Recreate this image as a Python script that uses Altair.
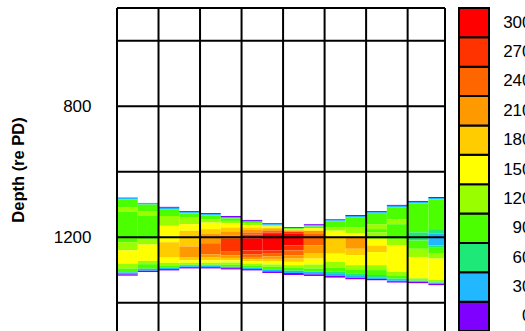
import altair as alt
import pandas as pd

# Colour levels (value -> fill)
LEVELS = [0, 30, 60, 90, 120, 150, 180, 210, 240, 270, 300]
COLORS = ["#7F00FF", "#22B8FF", "#1EE878", "#4CFF00", "#99FF00", "#FFFF00",
          "#FFCC00", "#FF9900", "#FF6600", "#FF3300", "#FF0000"]

# Range columns (width 0.5) : each column is a list of (top depth, level),
# followed by the bottom depth of the last segment.
COL_WIDTH = 0.5
COL_SEGMENTS = [
    [(1078, 30), (1084, 90), (1108, 120), (1122, 90), (1215, 120), (1240, 150), (1280, 120), (1295, 90), (1307, 30), (1313, 0)],
    [(1095, 30), (1100, 90), (1120, 120), (1135, 90), (1205, 120), (1222, 150), (1272, 120), (1282, 90), (1296, 30), (1302, 0)],
    [(1107, 0), (1110, 30), (1114, 90), (1135, 120), (1165, 150), (1215, 180), (1262, 150), (1278, 120), (1286, 90), (1292, 30), (1297, 0)],
    [(1120, 0), (1123, 30), (1127, 90), (1140, 120), (1160, 150), (1180, 180), (1228, 210), (1262, 180), (1270, 150), (1278, 120), (1284, 90), (1288, 30), (1291, 0)],
    [(1126, 0), (1129, 30), (1133, 90), (1145, 120), (1155, 150), (1175, 180), (1190, 210), (1218, 240), (1252, 210), (1262, 180), (1270, 150), (1278, 120), (1283, 90), (1287, 30), (1291, 0)],
    [(1135, 0), (1138, 30), (1142, 90), (1150, 120), (1157, 150), (1170, 180), (1182, 210), (1195, 240), (1205, 270), (1242, 240), (1255, 210), (1263, 180), (1270, 150), (1277, 120), (1284, 90), (1290, 30), (1294, 0)],
    [(1147, 0), (1150, 30), (1153, 90), (1158, 120), (1163, 150), (1170, 180), (1177, 210), (1185, 240), (1192, 270), (1203, 300), (1240, 270), (1252, 240), (1260, 210), (1267, 180), (1273, 150), (1280, 120), (1287, 90), (1293, 30), (1297, 0)],
    [(1157, 0), (1160, 30), (1163, 120), (1167, 150), (1171, 180), (1175, 210), (1180, 240), (1185, 270), (1190, 300), (1240, 270), (1250, 240), (1258, 210), (1266, 180), (1274, 150), (1283, 120), (1290, 90), (1298, 30), (1304, 0)],
    [(1169, 0), (1172, 90), (1175, 150), (1179, 210), (1183, 270), (1188, 300), (1225, 270), (1240, 240), (1255, 210), (1265, 180), (1275, 150), (1285, 120), (1293, 90), (1302, 30), (1309, 0)],
    [(1160, 0), (1163, 30), (1167, 90), (1172, 150), (1180, 210), (1188, 240), (1225, 210), (1250, 180), (1265, 150), (1283, 120), (1295, 90), (1305, 30), (1313, 0)],
    [(1145, 0), (1148, 30), (1152, 90), (1170, 120), (1180, 150), (1200, 180), (1250, 150), (1275, 120), (1292, 90), (1305, 60), (1312, 30), (1318, 0)],
    [(1132, 0), (1135, 30), (1140, 90), (1170, 120), (1188, 150), (1200, 210), (1235, 180), (1255, 150), (1285, 120), (1298, 90), (1310, 60), (1318, 30), (1324, 0)],
    [(1120, 0), (1123, 30), (1128, 90), (1160, 120), (1175, 90), (1185, 120), (1205, 150), (1225, 180), (1245, 150), (1285, 120), (1300, 90), (1315, 60), (1322, 30), (1327, 0)],
    [(1101, 0), (1104, 30), (1108, 90), (1145, 120), (1160, 90), (1205, 120), (1225, 150), (1305, 120), (1318, 90), (1326, 60), (1331, 30), (1334, 0)],
    [(1089, 0), (1092, 30), (1096, 90), (1185, 60), (1210, 90), (1235, 120), (1260, 150), (1325, 120), (1332, 60), (1336, 0)],
    [(1077, 0), (1080, 30), (1084, 90), (1175, 60), (1188, 30), (1225, 60), (1232, 90), (1250, 120), (1265, 150), (1330, 120), (1338, 30), (1342, 0)],
]
COL_BOTTOM = [1317, 1306, 1301, 1295, 1295, 1298, 1301, 1309, 1315, 1318, 1323, 1328, 1331, 1338, 1340, 1346]

X_MAX = 7.9                                   # right edge of the range axis
RANGE_LINES = [0, 1, 2, 3, 4, 5, 6, 7, X_MAX]
DEPTH_LINES = [500, 600, 800, 1000, 1200, 1400]
DEPTH_LABELS = [800, 1200]

# layout (pixels)
VIEW_W, VIEW_H = 408, 323      # whole drawing area right of the depth axis
PLOT_W = 328                   # width of the range/depth panel
BAR_X0, BAR_X1 = 342, 372      # colour bar position inside the drawing area

rows = []
for i, (segs, bottom) in enumerate(zip(COL_SEGMENTS, COL_BOTTOM)):
    for j, (top, level) in enumerate(segs):
        end = segs[j + 1][0] if j + 1 < len(segs) else bottom
        rows.append({"x0": i * COL_WIDTH, "x1": min((i + 1) * COL_WIDTH, X_MAX),
                     "d0": top, "d1": end, "level": level})
field = pd.DataFrame(rows)

FONT = "Liberation Sans"
color = alt.Color("level:O", scale=alt.Scale(domain=LEVELS, range=COLORS), legend=None)
xscale = alt.Scale(domain=[0, X_MAX], range=[0, PLOT_W], nice=False, zero=False)
yscale = alt.Scale(domain=[500, 1486], reverse=True, nice=False, zero=False)

heat = alt.Chart(field).mark_rect(strokeWidth=0).encode(
    x=alt.X("x0:Q", scale=xscale, axis=None),
    x2="x1:Q",
    y=alt.Y("d0:Q", scale=yscale,
            axis=alt.Axis(values=DEPTH_LABELS, ticks=False, domain=False, grid=False,
                          labelFont=FONT, labelFontSize=17, labelColor="black",
                          labelPadding=26, format="d",
                          title="Depth (re PD)", titleFont=FONT, titleFontSize=16.5,
                          titleFontWeight="bold", titleColor="black", titlePadding=27)),
    y2="d1:Q",
    color=color,
)

vlines = alt.Chart(pd.DataFrame({"r": RANGE_LINES})).mark_rule(
    color="black", strokeWidth=2).encode(x=alt.X("r:Q", scale=xscale))

hlines = alt.Chart(pd.DataFrame({"d": DEPTH_LINES})).mark_rule(
    color="black", strokeWidth=2).encode(
    y=alt.Y("d:Q", scale=yscale),
    x=alt.datum(RANGE_LINES[0], scale=xscale),
    x2=alt.datum(RANGE_LINES[-1]),
)

panel = alt.layer(heat, hlines, vlines)

colorbar = alt.Chart(pd.DataFrame({"level": LEVELS})).mark_rect(
    stroke="black", strokeWidth=2).encode(
    y=alt.Y("level:O", sort="descending",
            scale=alt.Scale(paddingInner=0, paddingOuter=0),
            axis=alt.Axis(orient="right", ticks=False, domain=False, title=None,
                          labelFont=FONT, labelFontSize=17, labelColor="black",
                          labelAlign="right", labelPadding=6)),
    x=alt.value(BAR_X0),
    x2=alt.value(BAR_X1),
    color=color,
)

chart = alt.layer(panel, colorbar).resolve_scale(
    x="independent", y="independent"
).properties(
    width=VIEW_W, height=VIEW_H,
    autosize=alt.AutoSizeParams(type="none"),
    padding={"left": 117, "top": 8, "right": 0, "bottom": 0},
).configure(background="white").configure_view(stroke=None)

chart.save("out.html", embed_options={"renderer": "svg", "actions": False})
